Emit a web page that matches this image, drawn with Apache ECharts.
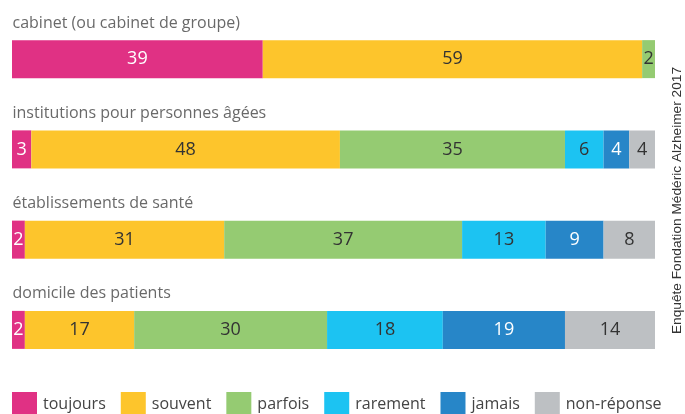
<!DOCTYPE html>
<html>
<head>
<meta charset="utf-8">
<script src="https://cdn.jsdelivr.net/npm/echarts@6/dist/echarts.min.js"></script>
<style>
html, body { margin: 0; padding: 0; background: #fff; }
#chart { width: 685px; height: 414px; }
</style>
</head>
<body>
<div id="chart"></div>
<script>
// lieux d'exercice
const categories = ['cabinet (ou cabinet de groupe)', 'institutions pour personnes âgées', 'établissements de santé', 'domicile des patients']
const toujours = [39, 3, 2, 2]
const souvent = [59, 48, 31, 17]
const parfois = [2, 35, 37, 30]
const rarement = [0, 6, 13, 18]
const jamais = [0, 4, 9, 19]
const nonReponse = [0, 4, 8, 14]
const legendNames = ['toujours', 'souvent', 'parfois', 'rarement', 'jamais', 'non-réponse']

const font = '"Open Sans"'

function makeSeries (name, data, color, labelColor) {
  return {
    name: name,
    type: 'bar',
    stack: 'total',
    data: data,
    barWidth: 38,
    itemStyle: { color: color },
    label: {
      show: true,
      position: 'inside',
      color: labelColor,
      fontFamily: font,
      fontSize: 18,
      formatter: p => (p.value ? p.value : '')
    },
    emphasis: { disabled: true }
  }
}

// titres des barres, posés au-dessus de chaque barre
const titles = {
  name: 'titres',
  type: 'scatter',
  data: categories.map(c => [0, c]),
  symbolSize: 1,
  clip: false,
  itemStyle: { color: 'rgba(0,0,0,0)' },
  label: {
    show: true,
    position: 'right',
    distance: 0,
    offset: [0, -36],
    color: '#444',
    fontFamily: font,
    fontSize: 16,
    formatter: p => p.value[1]
  },
  emphasis: { disabled: true },
  silent: true
}

const chart = echarts.init(document.getElementById('chart'))
chart.setOption({
  animation: false,
  grid: { left: 12, right: 30, top: 14, bottom: 39 },
  xAxis: { type: 'value', min: 0, max: 100, show: false },
  yAxis: {
    type: 'category',
    inverse: true,
    data: categories,
    axisLine: { show: false },
    axisTick: { show: false },
    axisLabel: { show: false }
  },
  legend: {
    left: 12,
    top: 392,
    padding: 0,
    icon: 'rect',
    itemWidth: 25,
    itemHeight: 25,
    itemGap: 15,
    textStyle: { color: '#444', fontFamily: font, fontSize: 16, padding: [5, 0, 0, 1] },
    data: legendNames
  },
  graphic: [{
    type: 'text',
    left: 670,
    top: 67,
    rotation: Math.PI / 2,
    style: {
      text: 'Enquête Fondation Médéric Alzheimer 2017',
      fill: '#333',
      font: '13.7px "Liberation Sans", sans-serif'
    }
  }],
  series: [
    makeSeries('toujours', toujours, '#E03184', '#fff'),
    makeSeries('souvent', souvent, '#FDC52C', '#333'),
    makeSeries('parfois', parfois, '#95CB72', '#333'),
    makeSeries('rarement', rarement, '#1CC3F2', '#333'),
    makeSeries('jamais', jamais, '#2786C8', '#fff'),
    makeSeries('non-réponse', nonReponse, '#BDC0C3', '#333'),
    titles
  ]
})
</script>
</body>
</html>
